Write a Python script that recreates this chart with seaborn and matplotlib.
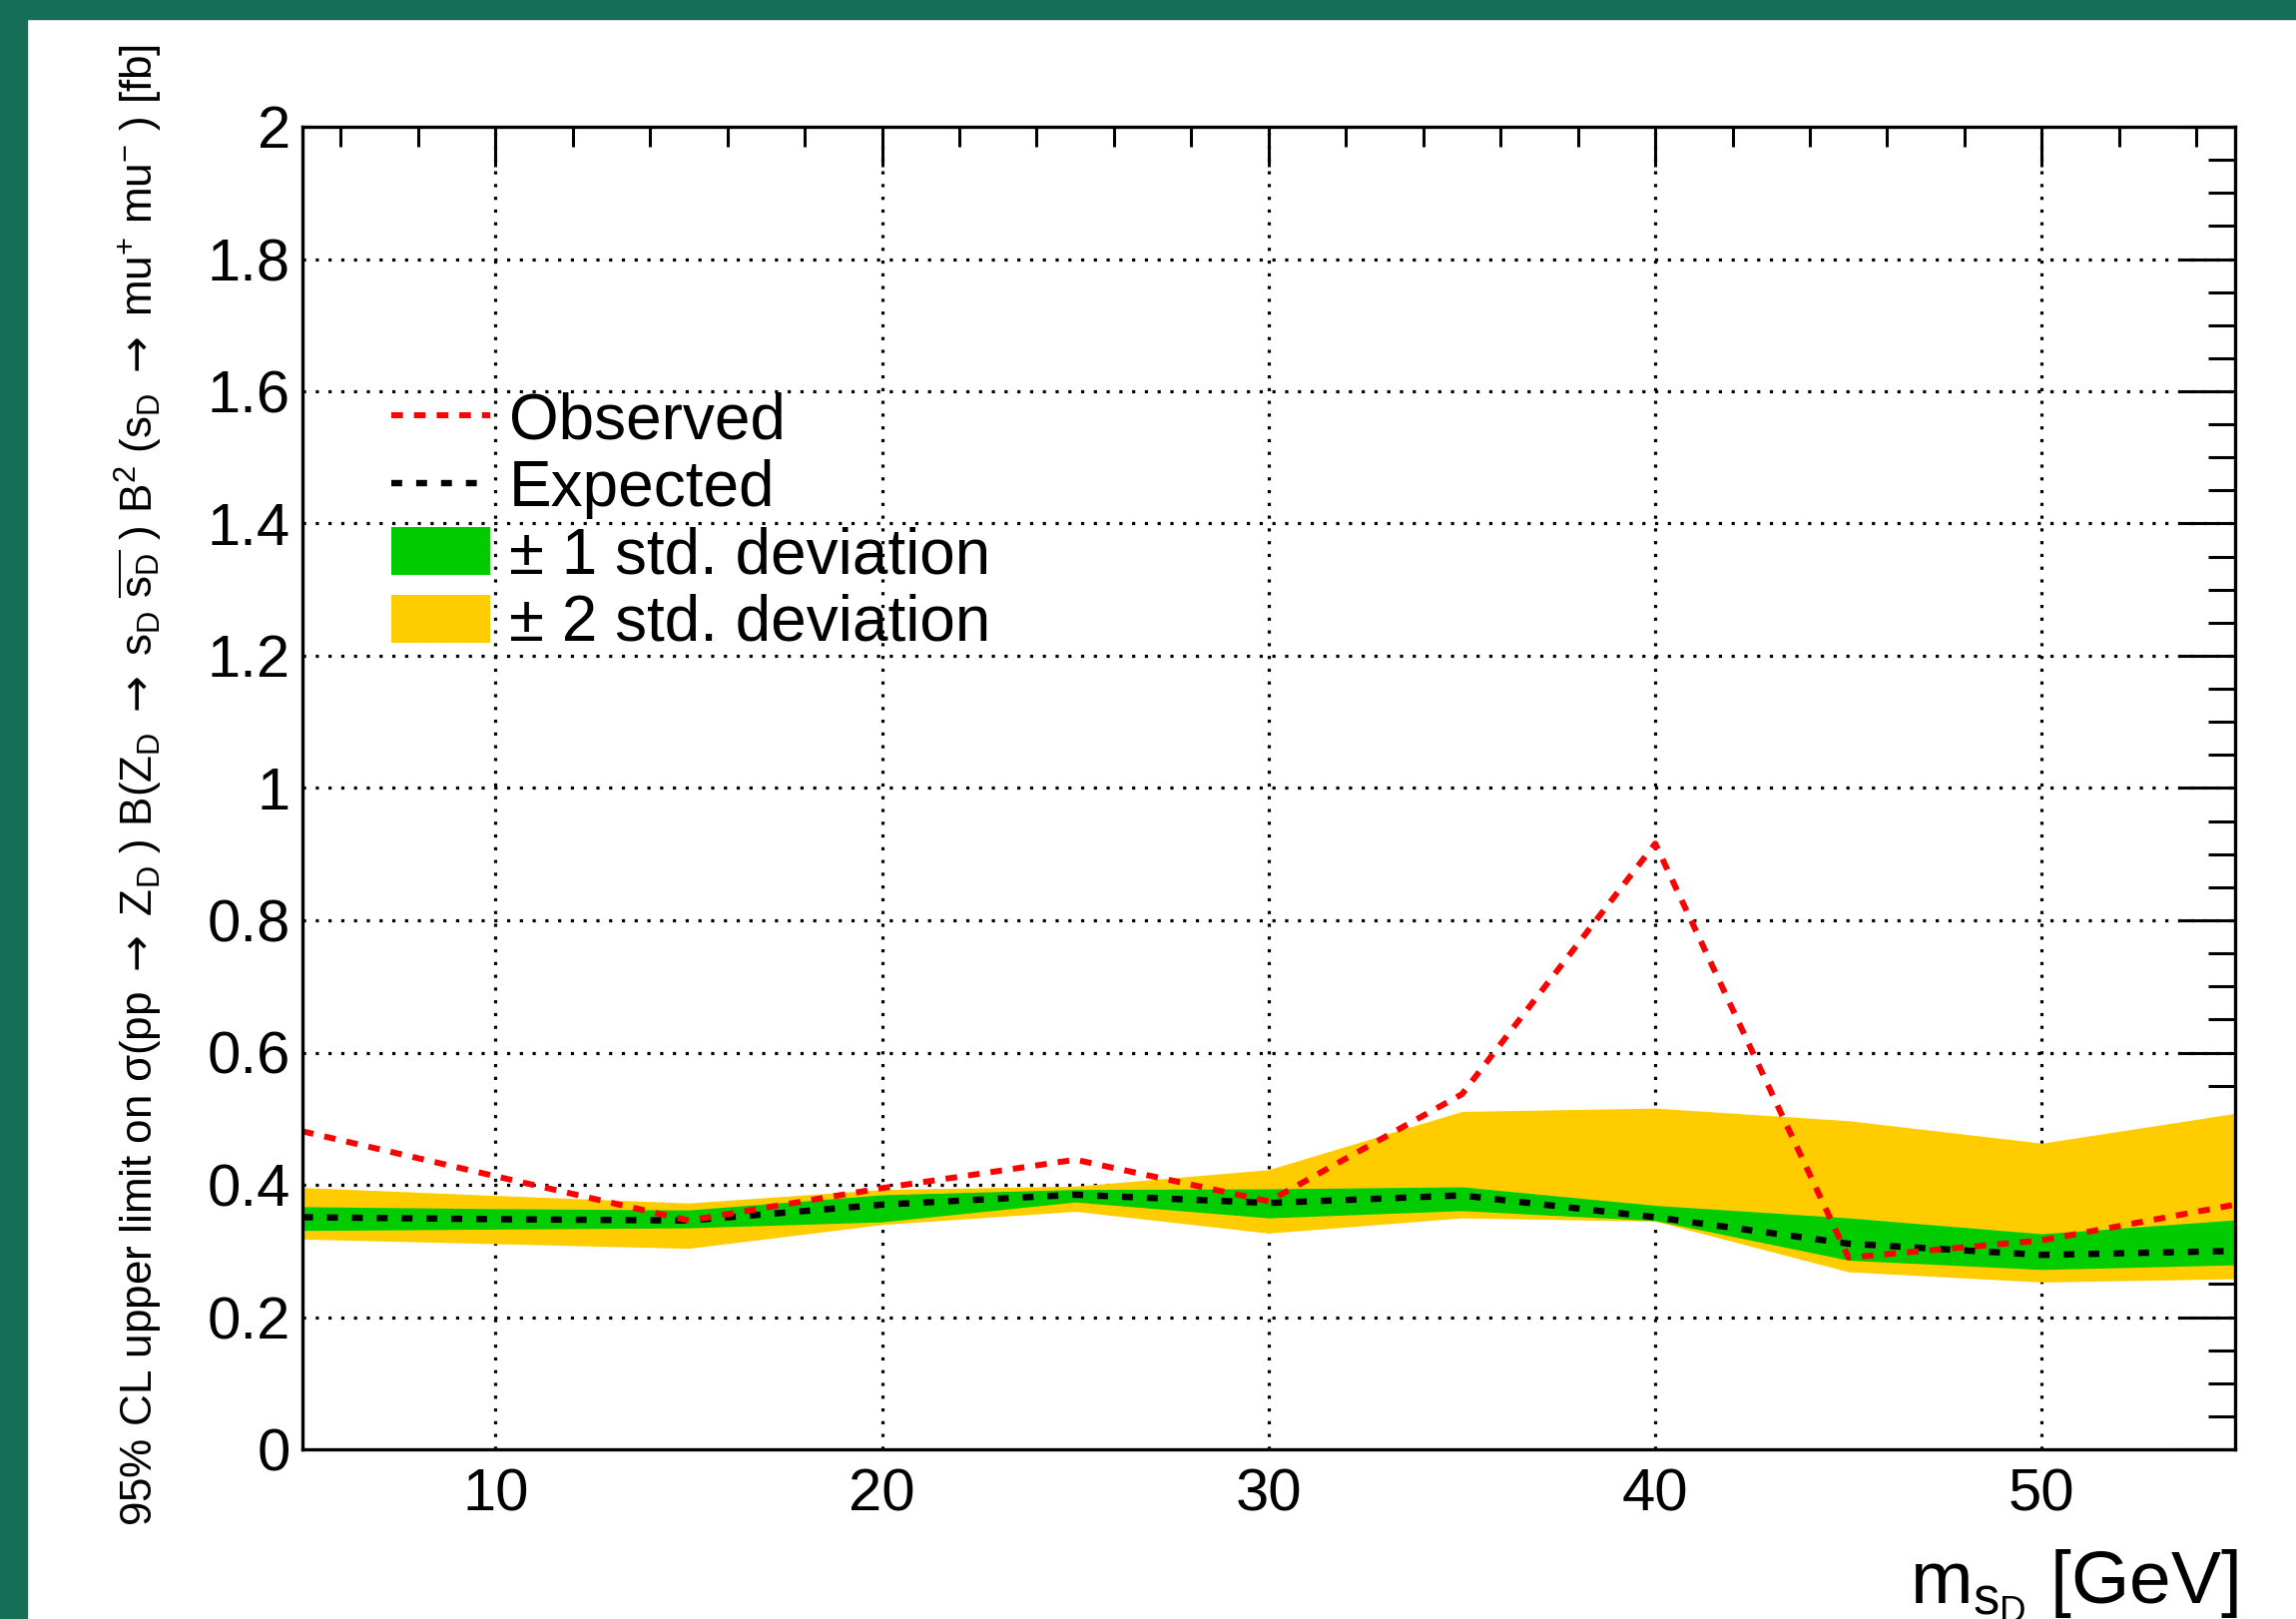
import matplotlib
matplotlib.use("Agg")
import matplotlib.pyplot as plt
from matplotlib.lines import Line2D
from matplotlib.patches import Patch, Rectangle
from matplotlib.ticker import MultipleLocator, FuncFormatter
import seaborn as sns

# Dark-scalar mass points [GeV]
mass = [5, 10, 15, 20, 25, 30, 35, 40, 45, 50, 55]

# 95% CL upper limits [fb]
observed = [0.481, 0.413, 0.346, 0.395, 0.438, 0.375, 0.537, 0.916, 0.290, 0.316, 0.370]
expected = [0.351, 0.348, 0.346, 0.370, 0.385, 0.3725, 0.384, 0.351, 0.311, 0.294, 0.300]

# +/- 1 sigma band
one_sigma_lo = [0.331, 0.333, 0.335, 0.344, 0.374, 0.350, 0.361, 0.346, 0.286, 0.272, 0.279]
one_sigma_hi = [0.367, 0.364, 0.362, 0.385, 0.393, 0.394, 0.397, 0.369, 0.350, 0.326, 0.347]

# +/- 2 sigma band
two_sigma_lo = [0.318, 0.311, 0.304, 0.340, 0.360, 0.327, 0.350, 0.345, 0.2685, 0.253, 0.258]
two_sigma_hi = [0.396, 0.384, 0.3725, 0.393, 0.398, 0.423, 0.511, 0.516, 0.497, 0.463, 0.508]

legend_labels = ["Observed", "Expected", "\u00b1 1 std. deviation", "\u00b1 2 std. deviation"]

sns.set_theme(style="white")
plt.rcParams["font.family"] = ["Liberation Sans", "DejaVu Sans"]
plt.rcParams["mathtext.fontset"] = "custom"
plt.rcParams["mathtext.rm"] = "Liberation Sans"
plt.rcParams["mathtext.it"] = "Liberation Sans"
plt.rcParams["mathtext.bf"] = "Liberation Sans:bold"
plt.rcParams["mathtext.sf"] = "DejaVu Sans"
plt.rcParams["mathtext.default"] = "regular"
for key in ["text.color", "axes.labelcolor", "xtick.color", "ytick.color"]:
    plt.rcParams[key] = "black"

W, H = 2300, 1622
fig = plt.figure(figsize=(W / 100, H / 100), dpi=100)
fig.patch.set_facecolor("white")

# canvas frame (top and left bands)
teal = "#156e56"
fig.patches.append(Rectangle((0, 1 - 19 / H), 1, 19 / H, transform=fig.transFigure,
                             color=teal, zorder=0))
fig.patches.append(Rectangle((0, 0), 27 / W, 1, transform=fig.transFigure,
                             color=teal, zorder=0))

ax = fig.add_axes([302.7 / W, 1 - 1452 / H, (2239 - 302.7) / W, (1452 - 127) / H])
ax.set_facecolor("white")
ax.set_xlim(5, 55)
ax.set_ylim(0, 2)

ax.xaxis.set_major_locator(MultipleLocator(10))
ax.xaxis.set_minor_locator(MultipleLocator(2))
ax.yaxis.set_major_locator(MultipleLocator(0.2))
ax.yaxis.set_minor_locator(MultipleLocator(0.05))
ax.yaxis.set_major_formatter(FuncFormatter(lambda v, p: f"{v:g}"))
ax.xaxis.set_major_formatter(FuncFormatter(lambda v, p: f"{v:g}"))

# dotted grid under the bands
grid_style = dict(color="black", lw=2.3, linestyle=(0, (1, 3)), zorder=1)
for xv in ax.get_xticks():
    if 5 < xv < 55:
        ax.axvline(xv, **grid_style)
for yv in ax.get_yticks():
    if 0 < yv < 2:
        ax.axhline(yv, **grid_style)

yellow = "#ffcc00"
green = "#00cc00"
ax.fill_between(mass, two_sigma_lo, two_sigma_hi, color=yellow, lw=0, zorder=2)
ax.fill_between(mass, one_sigma_lo, one_sigma_hi, color=green, lw=0, zorder=3)

exp_lw, obs_lw = 4.6, 4.3
exp_dash = (1.7, 2.2)
obs_dash = (1.95, 1.85)
sns.lineplot(x=mass, y=expected, ax=ax, color="black", lw=exp_lw, zorder=4)
ax.lines[-1].set_dashes(exp_dash)
sns.lineplot(x=mass, y=observed, ax=ax, color="red", lw=obs_lw, zorder=5)
ax.lines[-1].set_dashes(obs_dash)

ax.set_xlabel("")
ax.set_ylabel("")

for side in ["top", "bottom", "left", "right"]:
    ax.spines[side].set_visible(True)
    ax.spines[side].set_color("black")
    ax.spines[side].set_linewidth(2.4)
    ax.spines[side].set_zorder(6)

ax.tick_params(axis="both", which="both", direction="in", top=True, right=True,
               colors="black", width=2.2, zorder=6)
ax.tick_params(axis="x", which="major", length=29, pad=13, labelsize=43)
ax.tick_params(axis="x", which="minor", length=14.5)
ax.tick_params(axis="y", which="major", length=40, pad=8.6, labelsize=43)
ax.tick_params(axis="y", which="minor", length=19.5)

handles = [
    Line2D([], [], color="red", lw=obs_lw, dashes=obs_dash),
    Line2D([], [], color="black", lw=exp_lw, dashes=exp_dash),
    Patch(facecolor=green, edgecolor="none"),
    Patch(facecolor=yellow, edgecolor="none"),
]
leg = ax.legend(handles, legend_labels, loc="upper left", bbox_to_anchor=(0.046, 0.80),
                frameon=False, fontsize=46, handlelength=1.55, handleheight=0.78,
                handletextpad=0.3, labelspacing=0.12, borderpad=0, borderaxespad=0,
                labelcolor="black")
leg.set_zorder(7)

arrow = r" $\mathsf{\rightarrow}$ "
ylabel = (r"95% CL upper limit on $\sigma$(pp" + arrow + r"Z$_{D}$ ) "
          r"B(Z$_{D}$" + arrow + r"s$_{D}$ $\overline{s_{D}}$ ) "
          r"B$^{2}$ (s$_{D}$" + arrow + r"mu$^{+}$ mu$^{-}$ ) [fb]")
fig.text(139 / W, 1 - 44 / H, ylabel, rotation=90, ha="center", va="top", fontsize=31.7)

fig.text(2242 / W, 1 - 1606 / H, r"m$_{s_{D}}$ [GeV]", ha="right", va="baseline",
         fontsize=54)

fig.savefig("out.png", dpi=100, facecolor="white")
